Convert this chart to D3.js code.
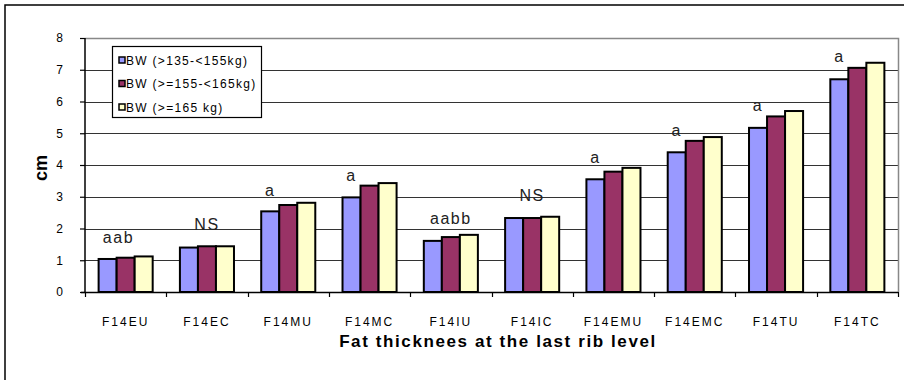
<!DOCTYPE html>
<html><head><meta charset="utf-8">
<script src="https://cdn.jsdelivr.net/npm/d3@7"></script>
<style>
html,body{margin:0;padding:0;background:#fff;}
svg{display:block;font-family:Arial,"Liberation Sans",sans-serif;}
</style></head>
<body><svg id="c" width="904" height="380"></svg>
<script>
const categories = ["F14EU","F14EC","F14MU","F14MC","F14IU","F14IC","F14EMU","F14EMC","F14TU","F14TC"];
const seriesNames = ["BW (>135-<155kg)","BW (>=155-<165kg)","BW (>=165 kg)"];
const bw135 = [1.04,1.40,2.54,2.98,1.61,2.33,3.55,4.40,5.17,6.70];
const bw155 = [1.08,1.44,2.74,3.35,1.73,2.33,3.79,4.76,5.53,7.06];
const bw165 = [1.12,1.44,2.81,3.43,1.80,2.37,3.91,4.88,5.70,7.22];
const sigLabels = ["aab","NS","a","a","aabb","NS","a","a","a","a"];
const sigLevel = [1.53,1.95,3.02,3.51,2.14,2.88,4.07,4.91,5.70,7.23];
const sigBar = [0.6,1,0,0,1,1,0,0,0,0];
const yTicks = [0,1,2,3,4,5,6,7,8];
const colors = ["#9999FF","#993366","#FFFFCC"];
const series = [bw135,bw155,bw165];

const svg = d3.select("#c");
const L=85,R=898,T=38,B=292;

svg.append("rect").attr("x",5).attr("y",5).attr("width",910).attr("height",390)
  .attr("fill","none").attr("stroke","#000").attr("stroke-width",1.5);

const y = d3.scaleLinear().domain([0,8]).range([B,T]);
const x0 = d3.scaleBand().domain(categories).range([L,R]).paddingInner(0.335).paddingOuter(0.1675);
const x1 = d3.scaleBand().domain([0,1,2]).range([0,x0.bandwidth()]);

// gridlines
svg.append("g").selectAll("line").data(yTicks.filter(t=>t>0&&t<8)).join("line")
  .attr("x1",L).attr("x2",R).attr("y1",d=>Math.round(y(d))+0.5).attr("y2",d=>Math.round(y(d))+0.5)
  .attr("stroke","#333").attr("stroke-width",1.2);
// plot border top/right
svg.append("path").attr("d",`M${L},${Math.round(y(8))+0.5}H${R+0.5}V${B}`)
  .attr("fill","none").attr("stroke","#888").attr("stroke-width",1.5);

// bars
const g = svg.append("g");
series.forEach((s,si)=>{
  g.selectAll(null).data(s).join("rect")
    .attr("x",(d,i)=>x0(categories[i])+x1(si))
    .attr("y",d=>y(d))
    .attr("width",x1.bandwidth())
    .attr("height",d=>B-y(d))
    .attr("fill",colors[si]).attr("stroke","#000").attr("stroke-width",2);
});

// y axis
const ya = svg.append("g").attr("transform",`translate(${L},0)`)
  .call(d3.axisLeft(y).tickValues(yTicks).tickSize(5).tickPadding(17).tickFormat(d3.format("d")));
ya.select(".domain").attr("stroke","#000").attr("stroke-width",1.5).attr("d",`M0,${T}V${B}`);
ya.selectAll(".tick line").attr("stroke","#000").attr("stroke-width",1.2);
ya.selectAll(".tick text").attr("font-size",12).attr("fill","#000").attr("font-family","Arial,'Liberation Sans',sans-serif");

// x axis
const step = x0.step();
const xa = svg.append("g").attr("transform",`translate(0,${B})`);
xa.append("line").attr("x1",L-4).attr("x2",R).attr("y1",0.5).attr("y2",0.5).attr("stroke","#000").attr("stroke-width",1.5);
xa.selectAll("line.tk").data(d3.range(categories.length+1)).join("line").attr("class","tk")
  .attr("x1",i=>Math.round(L+i*step)+0.5).attr("x2",i=>Math.round(L+i*step)+0.5)
  .attr("y1",0).attr("y2",5).attr("stroke","#000").attr("stroke-width",1.2);
xa.selectAll("text").data(categories).join("text")
  .attr("x",d=>x0(d)+x0.bandwidth()/2).attr("y",34)
  .attr("text-anchor","middle").attr("font-size",12).attr("letter-spacing","2px").attr("fill","#000")
  .text(d=>d);

// significance labels
svg.append("g").selectAll("text").data(categories).join("text")
  .attr("x",(d,i)=>x0(d)+x1(0)+x1.bandwidth()/2+sigBar[i]*x1.bandwidth())
  .attr("y",(d,i)=>y(sigLevel[i]))
  .attr("text-anchor","middle").attr("font-size",16).attr("letter-spacing","1.5px").attr("fill","#222")
  .text((d,i)=>sigLabels[i]);

// axis titles
svg.append("text").attr("x",498).attr("y",347).attr("text-anchor","middle")
  .attr("font-size",17).attr("font-weight","bold").attr("letter-spacing","1.6px").text("Fat thicknees at the last rib level");
svg.append("text").attr("transform","translate(47,168) rotate(-90)").attr("text-anchor","middle")
  .attr("font-size",18).attr("font-weight","bold").text("cm");

// legend
const lg = svg.append("g");
lg.append("rect").attr("x",112.5).attr("y",46.5).attr("width",149).attr("height",71)
  .attr("fill","#fff").attr("stroke","#000").attr("stroke-width",1.2);
seriesNames.forEach((n,i)=>{
  const cy = 60 + i*23.5;
  lg.append("rect").attr("x",119).attr("y",cy-3).attr("width",6).attr("height",6)
    .attr("fill",colors[i]).attr("stroke","#000").attr("stroke-width",1.5);
  lg.append("text").attr("x",126).attr("y",cy+4.5).attr("font-size",12).attr("letter-spacing","1.3px").text(n);
});
</script></body></html>
